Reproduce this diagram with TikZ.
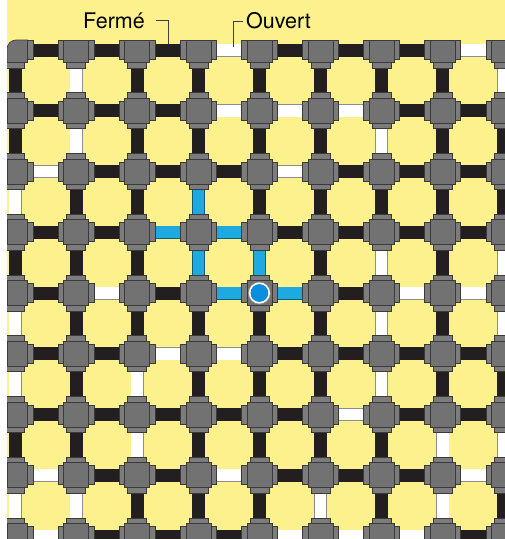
\documentclass[tikz,border=0pt]{standalone}
\usepackage{fontspec}
\setmainfont{TeX Gyre Heros}
\usetikzlibrary{calc}
\definecolor{bgyellow}{HTML}{FDF18D}
\definecolor{pipeblack}{HTML}{231F20}
\definecolor{pipeblue}{HTML}{1FA9E1}
\definecolor{jointgray}{HTML}{727272}
\definecolor{flangegray}{HTML}{7C7C7C}
\definecolor{edgegray}{HTML}{3A3A3A}
\definecolor{ballblue}{HTML}{0C8EDE}
\begin{document}
\begin{tikzpicture}[x=1pt,y=-1pt,
  pk/.style={draw=pipeblack,line width=13pt},
  pw/.style={draw=black!45,double=white,double distance=11.6pt,line width=0.7pt},
  pb/.style={draw=pipeblue!55!black,double=pipeblue,double distance=11.6pt,line width=0.7pt},
  body/.style={fill=jointgray,draw=edgegray,line width=0.6pt},
  flange/.style={fill=flangegray,draw=edgegray,line width=0.6pt},
  lbl/.style={font=\fontsize{21.5}{25}\selectfont,text=black,inner sep=0pt},
  leader/.style={draw=black!75,line width=0.8pt}]
\useasboundingbox (0,0) rectangle (505,539);
\fill[white] (0,0) rectangle (505,539);
\begin{scope}
\clip (7,0) rectangle (505,539);
\fill[bgyellow] (7,0) rectangle (505,539);
\foreach \r in {0,...,8}{
  \foreach \c in {0,...,8}{
    \coordinate (J-\r-\c) at ({15+61.1*\c},{50+60.75*\r});
  }}
% horizontal pipes
\foreach \row [count=\r from 0] in {
  {k,k,k,w,k,k,k,w},
  {k,k,k,w,w,w,k,k},
  {w,k,k,k,w,k,k,k},
  {k,k,b,b,k,k,k,k},
  {k,w,k,b,b,k,w,w},
  {k,k,w,w,k,k,k,k},
  {k,k,k,k,k,w,k,k},
  {w,k,k,w,k,k,k,w},
  {w,k,k,k,w,w,w,k}}{
  \foreach \s [count=\c from 0] in \row {
    \pgfmathtruncatemacro\cn{\c+1}
    \draw[p\s] (J-\r-\c) -- (J-\r-\cn);
  }}
% vertical pipes
\foreach \row [count=\r from 0] in {
  {k,w,k,k,k,k,k,k,w},
  {k,w,k,k,k,k,w,k,k},
  {w,k,k,b,k,k,k,k,k},
  {k,k,k,b,b,k,w,k,w},
  {w,k,k,k,k,k,w,k,w},
  {w,k,w,k,k,k,w,k,k},
  {k,k,w,k,k,k,k,w,w},
  {w,w,k,k,k,w,k,w,k}}{
  \foreach \s [count=\c from 0] in \row {
    \pgfmathtruncatemacro\rn{\r+1}
    \draw[p\s] (J-\r-\c) -- (J-\rn-\c);
  }}
% joints
\foreach \r in {0,...,8}{
  \foreach \c in {0,...,8}{
    \begin{scope}[shift={(J-\r-\c)}]
      \ifnum\r>0 \draw[flange] (-9.5,-18) rectangle (9.5,-12.5); \fi
      \draw[flange] (-9.5,12.5) rectangle (9.5,18);
      \ifnum\c>0 \draw[flange] (-18,-9.5) rectangle (-12.5,9.5); \fi
      \draw[flange] (12.5,-9.5) rectangle (18,9.5);
      \ifnum\c=0 \def\bl{-8}\else\def\bl{-12.5}\fi
      \ifnum\r=0 \def\bt{-10}\else\def\bt{-12.5}\fi
      \ifnum\r=0 \ifnum\c=0
        \draw[body] (12.5,12.5) -- (-8,12.5) -- (-8,-1) .. controls (-8,-6) and (-4,-10) .. (1,-10) -- (12.5,-10) -- cycle;
      \else
        \draw[body] (\bl,\bt) rectangle (12.5,12.5);
      \fi\else
        \draw[body] (\bl,\bt) rectangle (12.5,12.5);
      \fi
    \end{scope}
  }}
% moving ball
\fill[black!45] (J-4-4) circle (11.4);
\fill[white] (J-4-4) circle (10.6);
\fill[ballblue] (J-4-4) circle (8.9);
\end{scope}
% labels
\node[lbl,anchor=base west] (ferme) at (83,28) {Fermé};
\node[lbl,anchor=base west] (ouvert) at (246,28) {Ouvert};
\coordinate (fa) at (156,20.7);
\coordinate (fb) at (168,20.7);
\coordinate (ftip) at (168,44);
\coordinate (oa) at (243,21.5);
\coordinate (ob) at (233,21.5);
\coordinate (otip) at (233,47);
\draw[leader] (fa) -- (fb) -- (ftip);
\draw[leader] (oa) -- (ob) -- (otip);
\end{tikzpicture}
\end{document}
